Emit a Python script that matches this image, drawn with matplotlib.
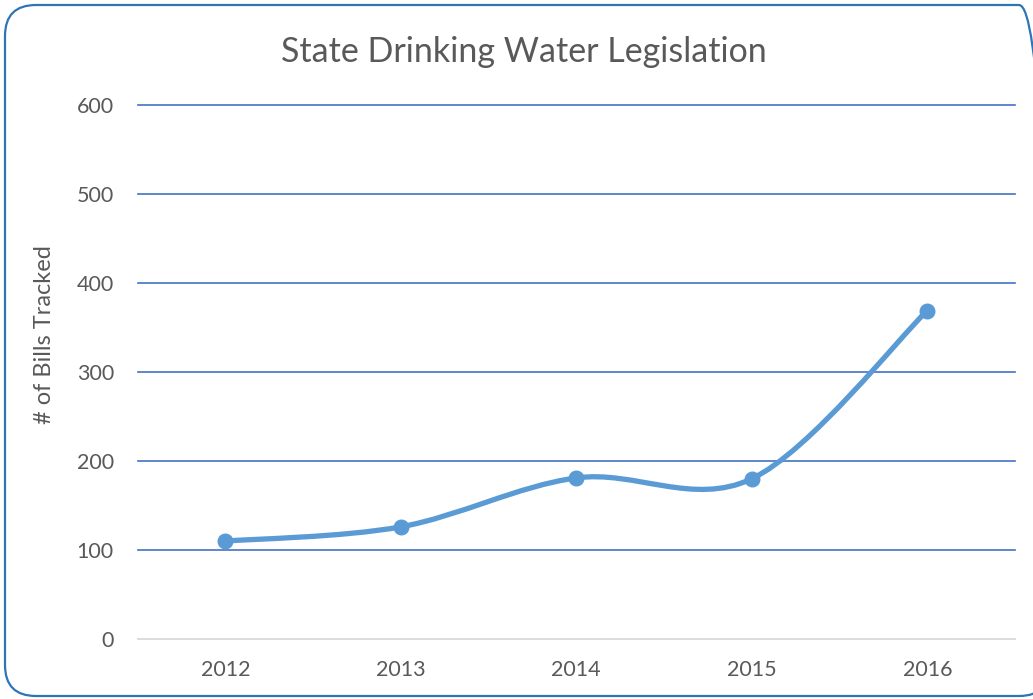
import matplotlib.pyplot as plt
from matplotlib.patches import FancyBboxPatch, PathPatch
from matplotlib.path import Path

years = ["2012", "2013", "2014", "2015", "2016"]
bills = [110, 126, 181, 180, 369]
y_ticks = [0, 100, 200, 300, 400, 500, 600]

LINE_COLOR = "#5B9BD5"
GRID_COLOR = "#4472C4"
TEXT_COLOR = "#595959"

plt.rcParams["font.family"] = ["Lato", "DejaVu Sans"]


def smooth_path(xs, ys):
    # Excel-style smoothed line: cubic Bezier through each point
    verts = [(xs[0], ys[0])]
    codes = [Path.MOVETO]
    n = len(xs)
    for i in range(n - 1):
        x0, y0 = xs[max(i - 1, 0)], ys[max(i - 1, 0)]
        x1, y1 = xs[i], ys[i]
        x2, y2 = xs[i + 1], ys[i + 1]
        x3, y3 = xs[min(i + 2, n - 1)], ys[min(i + 2, n - 1)]
        c1 = (x1 + (x2 - x0) / 6, y1 + (y2 - y0) / 6)
        c2 = (x2 - (x3 - x1) / 6, y2 - (y3 - y1) / 6)
        verts += [c1, c2, (x2, y2)]
        codes += [Path.CURVE4] * 3
    return Path(verts, codes)


fig = plt.figure(figsize=(10.33, 6.99), dpi=100)
ax = fig.add_axes([137.5 / 1033, 1 - 639 / 699, (1015 - 137.5) / 1033, (639 - 105) / 699])

xs = list(range(len(years)))
ax.add_patch(PathPatch(smooth_path(xs, bills), facecolor="none", edgecolor=LINE_COLOR,
                       lw=3.8, capstyle="round", zorder=3))
ax.plot(xs, bills, "o", color=LINE_COLOR, markersize=10.5, zorder=4)

ax.set_xlim(-0.5, len(years) - 0.5)
ax.set_ylim(0, 600)
ax.set_xticks(xs)
ax.set_xticklabels(years)
ax.set_yticks(y_ticks)
for t in y_ticks[1:]:
    ax.axhline(t, color=GRID_COLOR, lw=1.2, zorder=1, clip_on=False)
ax.axhline(0, color="#D9D9D9", lw=1.3, zorder=1, clip_on=False)

for s in ax.spines.values():
    s.set_visible(False)
ax.tick_params(length=0, labelsize=15.5, colors=TEXT_COLOR, pad=15)
ax.tick_params(axis="y", pad=17)
ax.set_ylabel("# of Bills Tracked", fontsize=17, color=TEXT_COLOR)
ax.yaxis.set_label_coords(-0.094, 0.57)

fig.text(0.507, 1 - 52 / 699, "State Drinking Water Legislation", ha="center", va="center",
         fontsize=24.5, color=TEXT_COLOR)

border = FancyBboxPatch((5 / 1033, 3 / 699), 1045 / 1033, 691 / 699,
                        boxstyle="round,pad=0,rounding_size=0.03",
                        transform=fig.transFigure, facecolor="none",
                        edgecolor="#2E75B6", lw=1.6, mutation_aspect=1033 / 699)
fig.patches.append(border)

fig.savefig("out.png", dpi=100)
